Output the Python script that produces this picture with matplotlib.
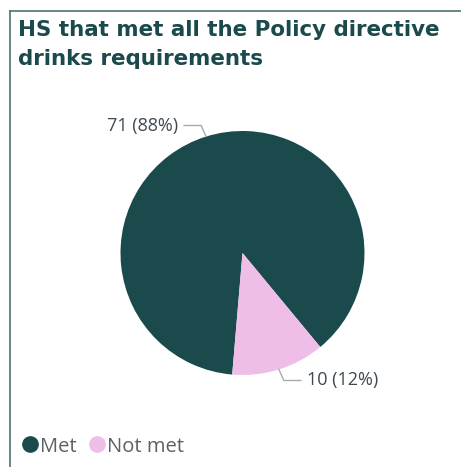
import matplotlib
matplotlib.use("Agg")
import matplotlib.pyplot as plt
from matplotlib.lines import Line2D
import numpy as np

categories = ["Met", "Not met"]
counts = [71, 10]
colors = ["#1b4a4c", "#eebde8"]
title = "HS that met all the Policy directive\ndrinks requirements"

W, H = 461, 467
fig = plt.figure(figsize=(W / 100, H / 100), dpi=100)
plt.rcParams["font.family"] = ["Open Sans", "DejaVu Sans"]

# outer card border (open at right and bottom)
border = "#4d7173"
fig.add_artist(Line2D([9.5 / W, 1.0], [1 - 11 / H, 1 - 11 / H], color=border, lw=1.2))
fig.add_artist(Line2D([9.5 / W, 9.5 / W], [1 - 11 / H, 0.0], color=border, lw=1.2))

fig.text(18 / W, 1 - 19.5 / H, title, ha="left", va="top", fontsize=15.4,
         fontweight="bold", color="#1b4a4c", linespacing=1.6,
         family="DejaVu Sans")

# pie centred at (242.5, 253) px with radius 122 px
cx, cy, r = 242.5, 253, 122
ax = fig.add_axes([(cx - r) / W, (H - cy - r) / H, 2 * r / W, 2 * r / H])
wedges, _ = ax.pie(counts, colors=colors, startangle=-50.4, counterclock=True,
                   radius=1, wedgeprops=dict(linewidth=0))
ax.set_xlim(-1, 1)
ax.set_ylim(-1, 1)
ax.set_aspect("equal")
ax.axis("off")

total = sum(counts)
for w, n in zip(wedges, counts):
    mid = np.deg2rad((w.theta1 + w.theta2) / 2)
    x0, y0 = np.cos(mid), np.sin(mid)
    x1, y1 = 1.1 * np.cos(mid) + 0.01 * np.sign(x0), 1.095 * np.sin(mid)
    side = np.sign(x0)
    x2 = x1 + side * 0.14
    ax.plot([x0, x1, x2], [y0, y1, y1], color="#a3adad", lw=1.0,
            clip_on=False, solid_joinstyle="miter")
    ax.text(x2 + side * 0.05, y1, f"{n} ({n / total:.0%})",
            ha="left" if side > 0 else "right", va="center",
            fontsize=13, color="#3d4a52", clip_on=False)

handles = [Line2D([], [], marker="o", linestyle="none", markersize=11,
                  markerfacecolor=c, markeredgecolor=c) for c in colors]
fig.legend(handles, categories, loc="center left",
           bbox_to_anchor=(12 / W, 1 - 446.5 / H), frameon=False, ncol=2,
           fontsize=14.5, handletextpad=0.0, columnspacing=0.5,
           handlelength=1.0, labelcolor="#5b6066", borderaxespad=0)

fig.savefig("out.png", dpi=100)
